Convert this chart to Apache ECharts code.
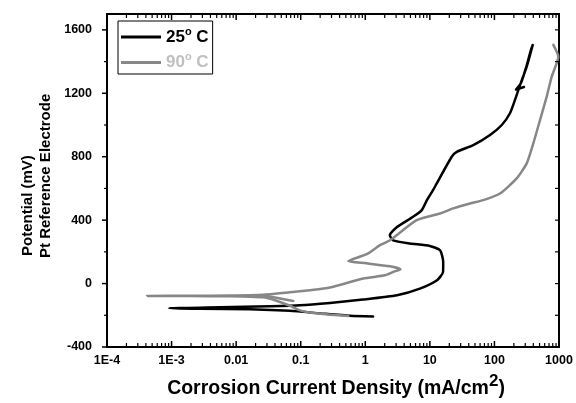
<!DOCTYPE html>
<html>
<head>
<meta charset="utf-8">
<script src="https://cdn.jsdelivr.net/npm/echarts@6/dist/echarts.min.js"></script>
<style>
  html, body { margin: 0; padding: 0; background: #fff; }
  #chart { width: 576px; height: 403px; }
</style>
</head>
<body>
<div id="chart"></div>
<script>
// Polarization curves: potential vs. corrosion current density
const seriesNames = ['25° C', '90° C'];

// 25 °C scan (current in mA/cm², potential in mV)
const current25 = [1.32, 0.58, 0.2, 0.068, 0.0164, 0.00275, 0.00091, 0.0056, 0.033, 0.0975,
  0.284, 0.92, 3.1, 7.0, 12.9, 16.0, 16.1, 14.4, 10.0, 4.9, 2.7, 2.4, 3.1, 5.5, 7.5, 9.0,
  11.2, 12.8, 21.8, 26.1, 47, 85.5, 130, 174, 208, 249, 316, 392, 368, 308, 258, 216, 287];
const potential25 = [-207, -203, -188, -172, -162, -159, -155, -150, -143, -137,
  -122, -101, -74, -32, 21, 73, 136, 210, 237, 253, 273, 305, 357, 421, 463, 526,
  589, 632, 800, 831, 873, 937, 1000, 1074, 1158, 1252, 1368, 1505, 1474, 1360, 1265, 1224, 1240];

// 90 °C scan
const current90 = [0.546, 0.284, 0.157, 0.0975, 0.068, 0.040, 0.026, 0.008, 0.0019, 0.000416,
  0.0019, 0.008, 0.026, 0.068, 0.139, 0.284, 0.93, 2.02, 2.69, 3.51, 2.41, 1.05, 0.546,
  1.05, 1.69, 2.41, 6.25, 14.4, 23, 41.9, 67.3, 122, 221, 316, 400, 508, 645, 771, 975, 817];
const potential90 = [-205, -196, -186, -169, -140, -105, -87, -80, -79, -78,
  -77, -76, -71, -55, -42, -25, 32, 52, 73, 90, 109, 128, 141,
  185, 242, 273, 400, 442, 474, 505, 526, 568, 663, 758, 884, 1031, 1179, 1305, 1431, 1505];

// short 90 °C branch near -110 mV
const current90b = [0.026, 0.0767];
const potential90b = [-74, -110];

// axis ranges and ticks
const currentMin = 1e-4, currentMax = 1000;
const potentialMin = -400, potentialMax = 1700;
const currentTicks = [1e-4, 1e-3, 0.01, 0.1, 1, 10, 100, 1000];
const currentTickLabels = ['1E-4', '1E-3', '0.01', '0.1', '1', '10', '100', '1000'];
const potentialTicks = [-400, 0, 400, 800, 1200, 1600];
const potentialMinorTicks = [-200, 200, 600, 1000, 1400];

const zip = (xs, ys) => xs.map((x, i) => [x, ys[i]]);

// tick marks: [current, potential, isMajor]
const xTickData = [];
currentTicks.forEach((d, i) => {
  xTickData.push([d, potentialMin, 1]);
  if (i < currentTicks.length - 1) {
    for (let m = 2; m <= 9; m++) xTickData.push([d * m, potentialMin, 0]);
  }
});
const yTickData = potentialTicks.map(v => [currentMin, v, 1])
  .concat(potentialMinorTicks.map(v => [currentMin, v, 0]));

const FONT = '"Liberation Sans", Arial, sans-serif';

function currentLabel(v) {
  for (let i = 0; i < currentTicks.length; i++) {
    if (Math.abs(Math.log10(v) - Math.log10(currentTicks[i])) < 1e-6) return currentTickLabels[i];
  }
  return '';
}

const axisLineStyle = { show: true, onZero: false, lineStyle: { color: '#000', width: 2 } };
const noLabel = { show: false };
const noTick = { show: false };

function tickLine(x1, y1, x2, y2, w) {
  return { type: 'line', silent: true,
    shape: { x1: x1, y1: y1, x2: x2, y2: y2 },
    style: { stroke: '#000', lineWidth: w } };
}

// current-axis ticks on bottom and top edges, pointing into the plot
function renderXTicks(params, api) {
  const v = api.value(0);
  const major = api.value(2) === 1;
  const len = major ? 6 : 4;
  const w = major ? 1.5 : 1.2;
  const b = api.coord([v, potentialMin]);
  const t = api.coord([v, potentialMax]);
  return { type: 'group', children: [
    tickLine(b[0], b[1], b[0], b[1] - len, w),
    tickLine(t[0], t[1], t[0], t[1] + len, w)
  ] };
}

// potential-axis ticks: outward on the left edge, inward on the right edge
function renderYTicks(params, api) {
  const v = api.value(1);
  const major = api.value(2) === 1;
  const l = api.coord([currentMin, v]);
  const r = api.coord([currentMax, v]);
  return { type: 'group', children: [
    tickLine(l[0], l[1], l[0] - (major ? 5 : 3), l[1], major ? 1.5 : 1.2),
    tickLine(r[0], r[1], r[0] - 4, r[1], 1.2)
  ] };
}

const chart = echarts.init(document.getElementById('chart'), null, { renderer: 'canvas' });

chart.setOption({
  animation: false,
  backgroundColor: '#fff',
  grid: { left: 107, right: 17, top: 14, bottom: 56, containLabel: false },
  xAxis: [
    {
      type: 'log', logBase: 10, min: currentMin, max: currentMax,
      position: 'bottom',
      splitLine: { show: false },
      axisLine: axisLineStyle, axisTick: noTick,
      axisLabel: { show: true, customValues: currentTicks, formatter: currentLabel, margin: 7,
        color: '#000', fontWeight: 'bold', fontSize: 12.5, fontFamily: FONT }
    },
    {
      type: 'log', logBase: 10, min: currentMin, max: currentMax,
      position: 'top',
      splitLine: { show: false },
      axisLine: axisLineStyle, axisTick: noTick, axisLabel: noLabel
    }
  ],
  yAxis: [
    {
      type: 'value', min: potentialMin, max: potentialMax, position: 'left',
      splitLine: { show: false },
      axisLine: axisLineStyle, axisTick: noTick,
      axisLabel: { show: true, customValues: potentialTicks, margin: 15,
        formatter: v => String(v),
        color: '#000', fontWeight: 'bold', fontSize: 12.5, fontFamily: FONT }
    },
    {
      type: 'value', min: potentialMin, max: potentialMax, position: 'right',
      splitLine: { show: false },
      axisLine: axisLineStyle, axisTick: noTick, axisLabel: noLabel
    }
  ],
  legend: {
    orient: 'vertical',
    left: 118, top: 21,
    padding: [5, 4, 3, 3],
    borderColor: '#000', borderWidth: 1,
    icon: 'rect', itemWidth: 40, itemHeight: 3, itemGap: 6,
    data: seriesNames,
    formatter: function (name) {
      return name === seriesNames[0] ? '{k|25}{ks|o}{k| C}' : '{g|90}{gs|o}{g| C}';
    },
    textStyle: {
      padding: [0, 0, 0, 0],
      rich: {
        k: { color: '#000', fontSize: 17, fontWeight: 'bold', fontFamily: FONT, lineHeight: 22 },
        ks: { color: '#000', fontSize: 11, fontWeight: 'bold', fontFamily: FONT, lineHeight: 10, verticalAlign: 'top' },
        g: { color: '#c0c0c0', fontSize: 17, fontWeight: 'bold', fontFamily: FONT, lineHeight: 22 },
        gs: { color: '#c0c0c0', fontSize: 11, fontWeight: 'bold', fontFamily: FONT, lineHeight: 10, verticalAlign: 'top' }
      }
    }
  },
  graphic: [
    {
      type: 'text', x: 336, y: 389, silent: true,
      style: {
        text: '{t|Corrosion Current Density (mA/cm}{s|2}{t|)}',
        align: 'center', verticalAlign: 'middle',
        rich: {
          t: { fill: '#000', fontSize: 19.5, fontWeight: 'bold', fontFamily: FONT, lineHeight: 32 },
          s: { fill: '#000', fontSize: 17, fontWeight: 'bold', fontFamily: FONT, lineHeight: 16, verticalAlign: 'top' }
        }
      }
    },
    {
      type: 'text', x: 28, y: 256, rotation: Math.PI / 2, silent: true,
      style: { text: 'Potential (mV)', fill: '#000', font: 'bold 15px ' + FONT,
        align: 'left', verticalAlign: 'middle' }
    },
    {
      type: 'text', x: 46, y: 258, rotation: Math.PI / 2, silent: true,
      style: { text: 'Pt Reference Electrode', fill: '#000', font: 'bold 15px ' + FONT,
        align: 'left', verticalAlign: 'middle' }
    }
  ],
  series: [
    {
      name: seriesNames[0], type: 'line', xAxisIndex: 0, yAxisIndex: 0,
      data: zip(current25, potential25),
      symbol: 'none', smooth: 0.2,
      itemStyle: { color: '#000' },
      lineStyle: { color: '#000', width: 2.5, cap: 'round', join: 'round' }
    },
    {
      name: seriesNames[1], type: 'line', xAxisIndex: 0, yAxisIndex: 0,
      data: zip(current90, potential90),
      symbol: 'none', smooth: 0.2,
      itemStyle: { color: '#878787' },
      lineStyle: { color: '#878787', width: 2.5, cap: 'round', join: 'round' }
    },
    {
      name: seriesNames[1], type: 'line', xAxisIndex: 0, yAxisIndex: 0,
      data: zip(current90b, potential90b),
      symbol: 'none',
      itemStyle: { color: '#878787' },
      lineStyle: { color: '#878787', width: 2.5, cap: 'round', join: 'round' }
    },
    {
      type: 'custom', xAxisIndex: 0, yAxisIndex: 0, silent: true, clip: false, z: 10,
      encode: { x: 0, y: 1 },
      data: xTickData, renderItem: renderXTicks
    },
    {
      type: 'custom', xAxisIndex: 0, yAxisIndex: 0, silent: true, clip: false, z: 10,
      encode: { x: 0, y: 1 },
      data: yTickData, renderItem: renderYTicks
    }
  ]
});
</script>
</body>
</html>
